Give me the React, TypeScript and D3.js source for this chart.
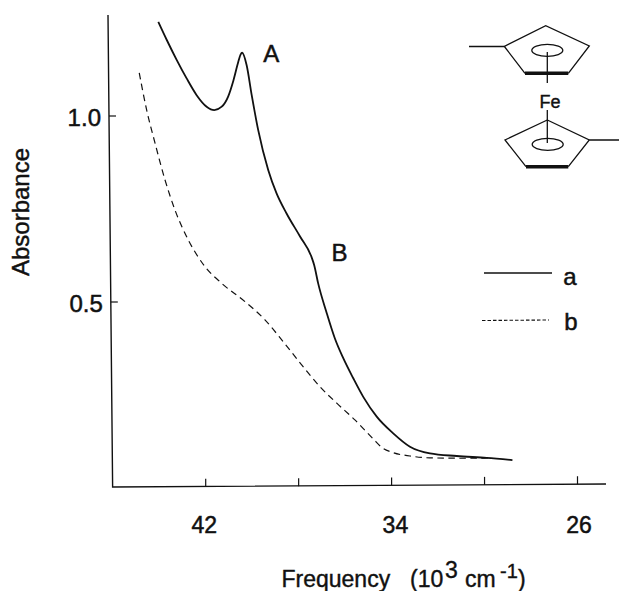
import React from 'react';
import * as d3 from 'd3';

// values: frequency in 10^3 cm-1, absorbance
const freqA = [44.04, 43.68, 43.25, 42.82, 42.39, 41.96, 41.63, 41.31, 41.03, 40.81, 40.6, 40.5, 40.43, 40.24, 40.02, 39.74, 39.31, 38.95, 38.52, 37.94, 37.44, 37.33, 37.16, 36.79, 36.44, 36.08, 35.65, 35.22, 34.64, 33.93, 33.21, 32.35, 31.2, 29.91, 28.8];
const absA = [1.253, 1.205, 1.151, 1.101, 1.056, 1.025, 1.016, 1.025, 1.053, 1.095, 1.145, 1.165, 1.17, 1.137, 1.056, 0.962, 0.855, 0.792, 0.738, 0.676, 0.62, 0.599, 0.55, 0.47, 0.402, 0.349, 0.295, 0.245, 0.192, 0.147, 0.111, 0.093, 0.086, 0.081, 0.075];
const freqB = [44.86, 44.54, 44.18, 43.75, 43.32, 42.75, 42.03, 41.31, 40.31, 39.45, 38.66, 37.87, 37.08, 36.36, 35.58, 34.79, 34.4, 33.93, 33.21, 32.35, 30.92, 29.77];
const absB = [1.116, 1.016, 0.927, 0.828, 0.747, 0.667, 0.595, 0.55, 0.501, 0.452, 0.393, 0.331, 0.272, 0.228, 0.183, 0.132, 0.108, 0.095, 0.086, 0.081, 0.08, 0.081];
const xTicks = [42, 38, 34, 30, 26];
const xTickLabels = ['42', '34', '26'];
const xLabelNudge = [-1.5, 3.8, 1.5];
const yTicks = [1.0, 0.5];

const width = 619;
const height = 591;
const font = '"Liberation Sans", Arial, sans-serif';
const ink = '#111';

const x = d3.scaleLinear().domain([42, 26]).range([205.7, 577.5]);
const y = d3.scaleLinear().domain([0, 1]).range([488, 116]);

const curve = (fs: number[], as: number[]) =>
  d3.line<number>()
    .x((f) => x(f))
    .y((_, i) => y(as[i]))
    .curve(d3.curveMonotoneX)(fs) as string;

// the scan is a little skewed, so the axes lean by a few pixels
const xAxisY = (px: number) => 487.4 - (px - 112.5) * 0.0068;
const yAxisX = (py: number) => 108 + (py - 15) * 0.0098;

const Label = ({ x, y, size = 24, anchor = 'middle', children }: any) => (
  <text x={x} y={y} textAnchor={anchor} fontSize={size} fill={ink} stroke={ink} strokeWidth={0.5}>{children}</text>
);

const Ferrocene = () => (
  <g fill="none" stroke={ink} strokeWidth={1.3}>
    <path d="M469 46.5H504L545.7 25.7L589.3 46L568.3 73.3M525 73.3L504 46" />
    <path d="M525 73.3H568.3" strokeWidth={3.4} />
    <ellipse cx={547.3} cy={50.3} rx={15.5} ry={6} />
    <path d="M547.3 52V83M547.3 110V143" />
    <path d="M547.3 120L589.3 140L568.3 166.7M526 166.7L505 140L547.3 120M589.3 140H619" />
    <path d="M526 166.7H568.3" strokeWidth={3.4} />
    <ellipse cx={547.7} cy={144.3} rx={15.5} ry={6} />
    <text x={550} y={108} textAnchor="middle" fontSize={18} fill={ink} stroke={ink} strokeWidth={0.4} fontFamily={font}>Fe</text>
  </g>
);

const App = () => {
  return (
    <svg width={width} height={height} style={{ position: 'absolute', left: 0, top: 0, background: '#fff' }} fontFamily={font}>
      {/* axes */}
      <path d={`M${yAxisX(15)} 15L${yAxisX(487)} 487L606 ${xAxisY(606)}`} fill="none" stroke={ink} strokeWidth={1.4} />
      {xTicks.map((t) => (
        <line key={t} x1={x(t)} x2={x(t)} y1={xAxisY(x(t))} y2={xAxisY(x(t)) - 8} stroke={ink} strokeWidth={1.2} />
      ))}
      {yTicks.map((t) => (
        <line key={t} x1={yAxisX(y(t))} x2={yAxisX(y(t)) + 7} y1={y(t)} y2={y(t)} stroke={ink} strokeWidth={1.2} />
      ))}
      {xTickLabels.map((t, i) => (
        <Label key={t} x={x(+t) + xLabelNudge[i]} y={533} size={23}>{t}</Label>
      ))}
      {yTicks.map((t) => (
        <Label key={t} x={yAxisX(y(t)) - 8} y={y(t) + 9.5} anchor="end">{t.toFixed(1)}</Label>
      ))}
      <text transform="translate(29,212) rotate(-90)" textAnchor="middle" fontSize={24} fill={ink} stroke={ink} strokeWidth={0.45}>Absorbance</text>

      <g fontSize={23} fill={ink} stroke={ink} strokeWidth={0.4}>
        <text x={281.5} y={587}>Frequency</text>
        <text x={410} y={587}>(10</text>
        <text x={445} y={578}>3</text>
        <text x={465} y={587}>cm</text>
        <text x={500} y={578} fontSize={20}>-1</text>
        <text x={518} y={587}>)</text>
      </g>

      {/* spectra */}
      <path d={curve(freqA, absA)} fill="none" stroke={ink} strokeWidth={1.8} />
      <path d={curve(freqB, absB)} fill="none" stroke={ink} strokeWidth={1.2} strokeDasharray="6.5 4.5" />

      {/* band labels */}
      <Label x={271.3} y={61.5}>A</Label>
      <Label x={339.5} y={260.5}>B</Label>

      {/* legend */}
      <line x1={484} x2={552} y1={273} y2={273} stroke={ink} strokeWidth={1.4} />
      <Label x={570} y={284.5}>a</Label>
      <line x1={482} x2={549} y1={320.5} y2={320} stroke={ink} strokeWidth={1.1} strokeDasharray="3.5 2" />
      <Label x={571} y={330}>b</Label>

      <Ferrocene />
    </svg>
  );
};

export default App;
